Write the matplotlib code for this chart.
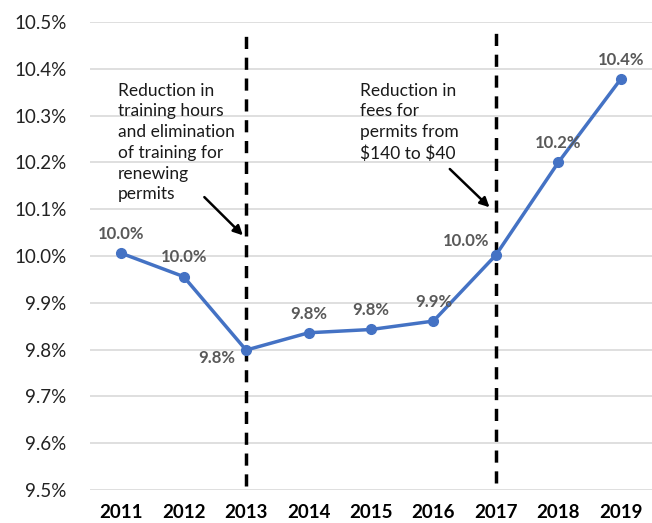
import matplotlib.pyplot as plt
from matplotlib.ticker import FuncFormatter

years = ['2011', '2012', '2013', '2014', '2015', '2016', '2017', '2018', '2019']
rates = [10.006, 9.956, 9.799, 9.836, 9.843, 9.861, 10.002, 10.200, 10.378]
point_labels = ['10.0%', '10.0%', '9.8%', '9.8%', '9.8%', '9.9%', '10.0%', '10.2%', '10.4%']

note_2013 = 'Reduction in\ntraining hours\nand elimination\nof training for\nrenewing\npermits'
note_2017 = 'Reduction in\nfees for\npermits from\n\\$140 to \\$40'

plt.rcParams['font.family'] = ['Lato', 'DejaVu Sans']

fig = plt.figure(figsize=(6.52, 5.23), dpi=100)
ax = fig.add_axes([0.138, 0.063, 0.862, 0.895])

x = list(range(len(years)))
ax.plot(x, rates, color='#4472c4', linewidth=2.5, marker='o', markersize=7, zorder=3)

# data labels
offsets = {2: (-8, -6, 'right', 'center'), 6: (-5, 10, 'right', 'center')}
for i, (v, lab) in enumerate(zip(rates, point_labels)):
    dx, dy, ha, va = offsets.get(i, (0, 8, 'center', 'bottom'))
    ax.annotate(lab, (i, v), xytext=(dx, dy), textcoords='offset points',
                ha=ha, va=va, fontsize=12, fontweight='bold', color='#595959', zorder=4)

# policy change lines
ax.plot([2, 2], [9.508, 10.475], color='black', linestyle=(0, (3.5, 2.5)), linewidth=2.5, zorder=2)
ax.plot([6, 6], [9.515, 10.48], color='black', linestyle=(0, (3.5, 2.5)), linewidth=2.5, zorder=2)

ax.text(-0.05, 10.37, note_2013, ha='left', va='top', fontsize=12.5, color='#1a1a1a', linespacing=1.36)
ax.annotate('', xy=(1.98, 10.04), xytext=(1.3, 10.13),
            arrowprops=dict(arrowstyle='-|>', color='black', lw=1.8, mutation_scale=14))
ax.text(3.83, 10.37, note_2017, ha='left', va='top', fontsize=12.5, color='#1a1a1a', linespacing=1.36)
ax.annotate('', xy=(5.93, 10.1), xytext=(5.23, 10.19),
            arrowprops=dict(arrowstyle='-|>', color='black', lw=1.8, mutation_scale=14))

ax.set_xlim(-0.5, 8.5)
ax.set_ylim(9.5, 10.5)
ax.set_yticks([9.5 + 0.1 * k for k in range(11)])
ax.yaxis.set_major_formatter(FuncFormatter(lambda v, p: f'{v:.1f}%'))
ax.set_xticks(x)
ax.set_xticklabels(years, fontweight='bold')
ax.tick_params(axis='both', length=0)
ax.tick_params(axis='y', labelsize=13.5, labelcolor='#222222', pad=17)
ax.tick_params(axis='x', labelsize=13.5, labelcolor='black', pad=10)
ax.grid(axis='y', color='#d9d9d9', linewidth=1.2)
ax.set_axisbelow(True)
for s in ax.spines.values():
    s.set_visible(False)

plt.savefig('out.png', dpi=100)
plt.close()
